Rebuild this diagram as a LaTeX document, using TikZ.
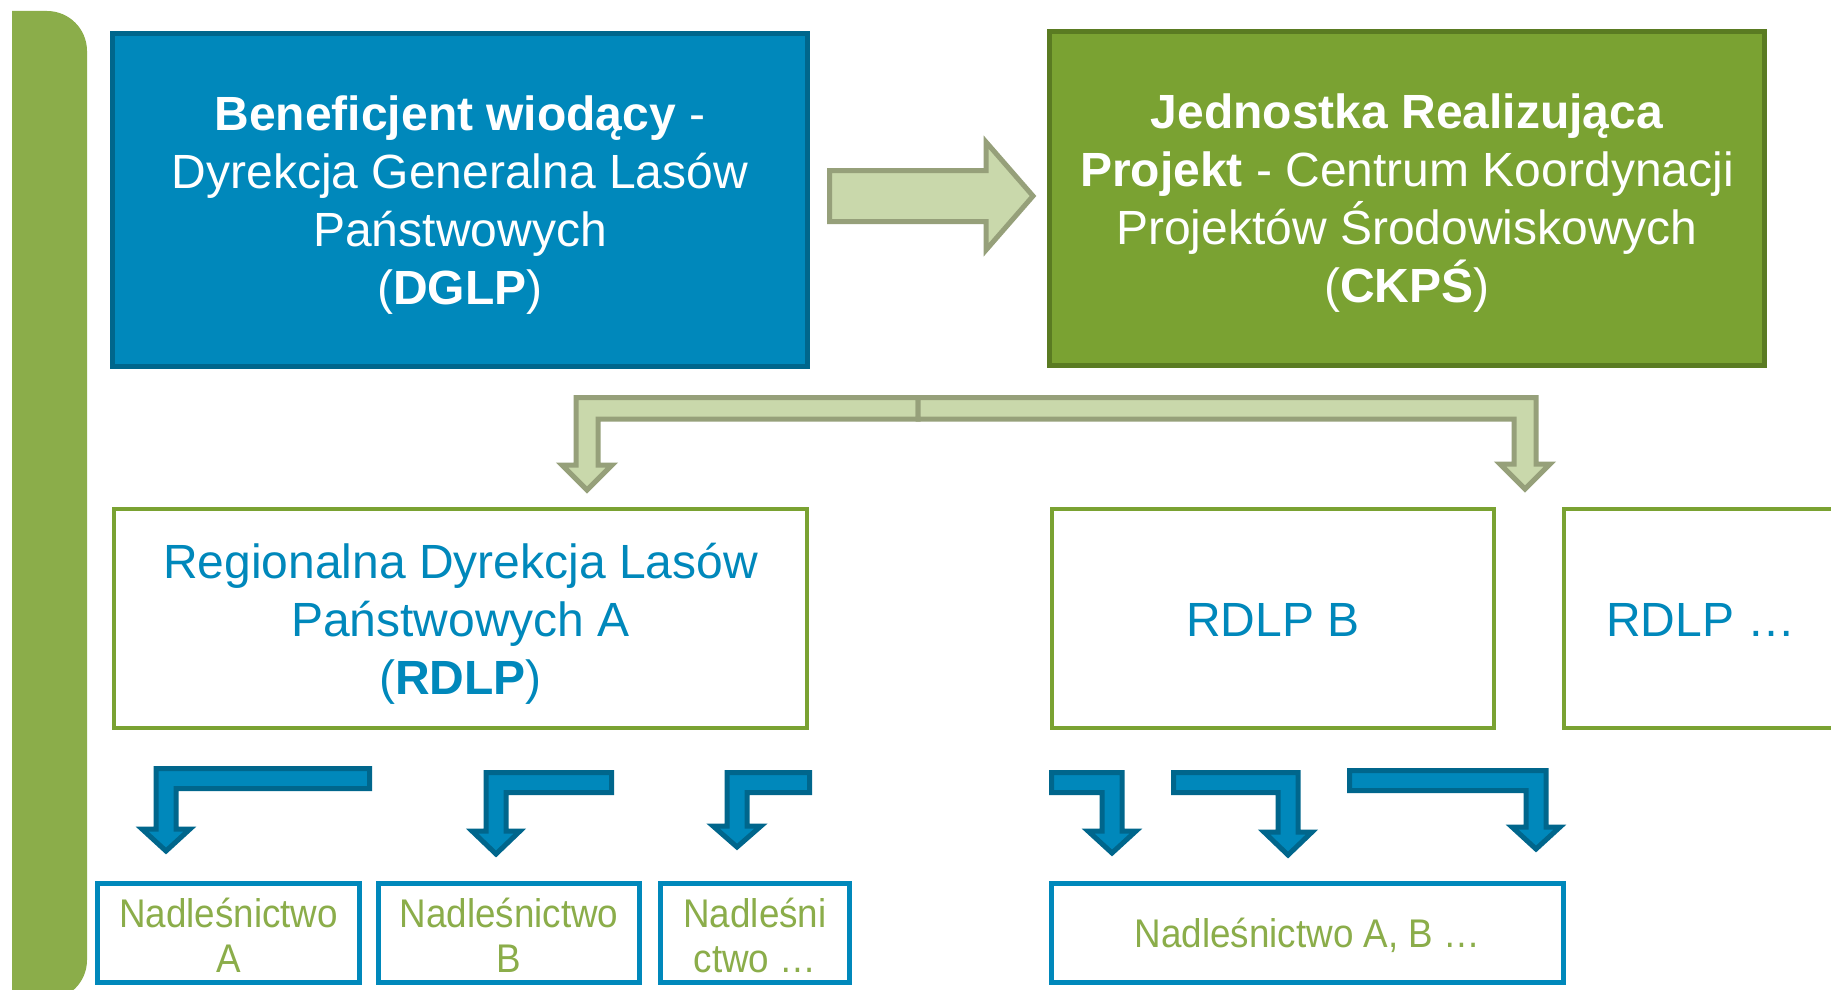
\documentclass[tikz,border=0pt]{standalone}
\usepackage{fontspec}
\setmainfont{Liberation Sans}
\newfontfamily\narrowfont[FakeStretch=0.92]{Liberation Sans}
\definecolor{dglpblue}{HTML}{0088BB}
\definecolor{dglpdark}{HTML}{00668C}
\definecolor{ckpsgreen}{HTML}{7AA232}
\definecolor{ckpsdark}{HTML}{5A7B22}
\definecolor{bargreen}{HTML}{8BAD4A}
\definecolor{arrfill}{HTML}{C9D8AB}
\definecolor{arrline}{HTML}{96A07A}
\definecolor{txtgreen}{HTML}{8BAD4A}
\tikzset{
  bigtxt/.style={font=\fontsize{48}{58}\selectfont, align=center, inner sep=0pt},
  topblue/.style={fill=dglpblue, draw=dglpdark, line width=5pt, inner sep=0pt},
  topgreen/.style={fill=ckpsgreen, draw=ckpsdark, line width=5pt, inner sep=0pt},
  rdlpbox/.style={fill=white, draw=ckpsgreen, line width=4pt, inner sep=0pt, minimum height=219pt},
  rdlptxt/.style={bigtxt, text=dglpblue},
  nadlbox/.style={font=\narrowfont\fontsize{40}{45}\selectfont, align=center, inner sep=0pt,
    fill=white, draw=dglpblue, line width=5pt, text=txtgreen, minimum height=99pt},
  nadltxt/.style={font=\narrowfont\fontsize{40}{45}\selectfont, align=center, inner sep=0pt, text=txtgreen},
  greenarrow/.style={fill=arrfill, draw=arrline, line width=5pt, line join=miter},
  bluearrow/.style={fill=dglpblue, draw=dglpdark, line width=5pt, line join=miter}
}
% bent arrow: bar from right end going left, then down (xs, xr, yt, ybase, ytip)
\newcommand\bentDL[5]{%
  \draw[bluearrow] (#2,#3) -- ({#1-10},#3) -- ({#1-10},#4) -- ({#1-24},#4) -- (#1,#5)
    -- ({#1+24},#4) -- ({#1+10},#4) -- ({#1+10},{#3+20}) -- (#2,{#3+20}) -- cycle;}
% bent arrow: bar from left end going right, then down (xs, xl, yt, ybase, ytip)
\newcommand\bentDR[5]{%
  \draw[bluearrow] (#2,#3) -- ({#1+10},#3) -- ({#1+10},#4) -- ({#1+24},#4) -- (#1,#5)
    -- ({#1-24},#4) -- ({#1-10},#4) -- ({#1-10},{#3+20}) -- (#2,{#3+20}) -- cycle;}
\begin{document}
\begin{tikzpicture}[x=1pt, y=-1pt]
  \useasboundingbox (0,0) rectangle (1831,990);
  \fill[white] (0,0) rectangle (1831,990);
  \clip (0,0) rectangle (1831,990);

  % left bar
  \fill[bargreen] (12,11) -- (47,11) arc[start angle=90, end angle=0, radius=40pt]
    -- (87,960) arc[start angle=0, end angle=-90, radius=40pt] -- (12,1000) -- cycle;

  % top boxes
  \node[topblue, minimum width=695pt, minimum height=333pt] (dglp) at (460,200) {};
  \node[bigtxt, text=white] (dglpt) at ([yshift=-5pt]dglp.center)
    {\textbf{Beneficjent wiodący} -\\Dyrekcja Generalna Lasów\\Państwowych\\(\textbf{DGLP})};
  \node[topgreen, minimum width=715pt, minimum height=334pt] (ckps) at (1407,198.5) {};
  \node[bigtxt, text=white] (ckpst) at ([yshift=-5pt]ckps.center)
    {\textbf{Jednostka Realizująca}\\\textbf{Projekt} - Centrum Koordynacji\\Projektów Środowiskowych\\(\textbf{CKPŚ})};

  % arrow between top boxes
  \draw[greenarrow] (829.5,170.5) -- (986,170.5) -- (986,142) -- (1033,196) -- (986,250)
    -- (986,221.5) -- (829.5,221.5) -- cycle;

  % split arrow
  \draw[greenarrow] (918,397.5) -- (576,397.5) -- (576,465) -- (562,465) -- (587,490)
    -- (612,465) -- (598,465) -- (598,419) -- (918,419) -- cycle;
  \draw[greenarrow] (918,397.5) -- (1536,397.5) -- (1536,464) -- (1550,464) -- (1525,489)
    -- (1500,464) -- (1514,464) -- (1514,419) -- (918,419) -- cycle;

  % regional boxes
  \node[rdlpbox, minimum width=693pt] (rdlpa) at (460.5,618.5) {};
  \node[rdlptxt] (rdlpat) at ([yshift=-5pt]rdlpa.center)
    {Regionalna Dyrekcja Lasów\\Państwowych A\\(\textbf{RDLP})};
  \node[rdlpbox, minimum width=442pt] (rdlpb) at (1273,618.5) {};
  \node[rdlptxt] (rdlpbt) at ([yshift=-1pt]rdlpb.center) {RDLP B};
  \node[rdlpbox, minimum width=274pt] (rdlpc) at (1701,618.5) {};
  \node[rdlptxt] (rdlpct) at ([yshift=-1pt]rdlpc.center) {RDLP …};

  % blue bent arrows
  \bentDL{166}{369.5}{768.5}{829}{851}
  \bentDL{496}{611.5}{772.5}{831}{854}
  \bentDL{737}{809.5}{772.5}{826}{847}
  \bentDR{1112}{1051.5}{772.5}{831}{853}
  \bentDR{1288}{1173.5}{772.5}{832}{855}
  \bentDR{1536}{1349.5}{770.5}{827}{849}

  % forest district boxes
  \node[nadlbox, minimum width=262pt] (na) at (228.5,933) {};
  \node[nadltxt] (nat) at ([yshift=-2pt]na.center) {Nadleśnictwo\\A};
  \node[nadlbox, minimum width=261pt] (nb) at (509,933) {};
  \node[nadltxt] (nbt) at ([yshift=-2pt]nb.center) {Nadleśnictwo\\B};
  \node[nadlbox, minimum width=189pt] (nc) at (755,933) {};
  \node[nadltxt] (nct) at ([yshift=-2pt]nc.center) {Nadleśni\\ctwo …};
  \node[nadlbox, minimum width=512pt] (nd) at (1307.5,933) {};
  \node[nadltxt] (ndt) at ([yshift=-2pt]nd.center) {Nadleśnictwo A, B …};
\end{tikzpicture}
\end{document}
